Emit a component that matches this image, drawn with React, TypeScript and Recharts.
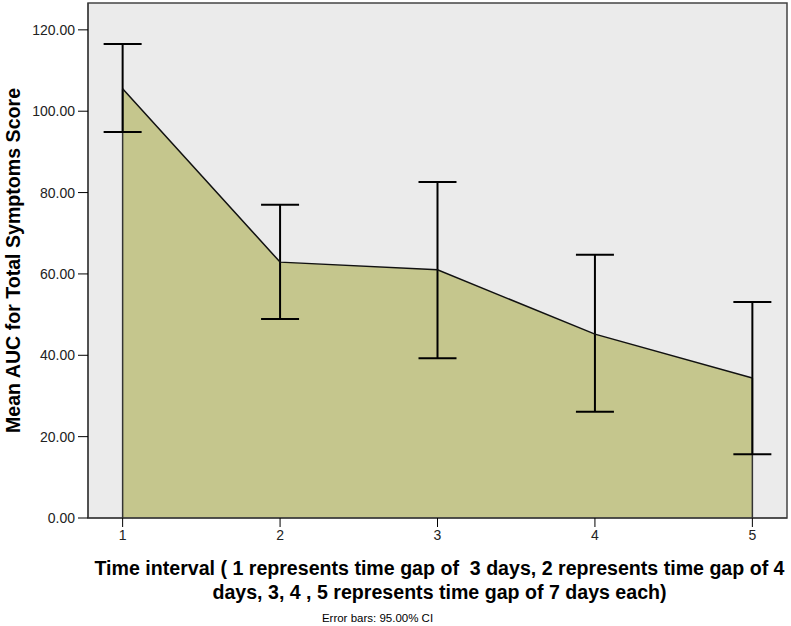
import React from "react";
import {
  ComposedChart,
  Area,
  Line,
  XAxis,
  YAxis,
  ErrorBar,
  ReferenceLine,
  ReferenceArea,
  Label,
} from "recharts";

const categories = [1, 2, 3, 4, 5];
const means = [105.5, 62.9, 61.0, 45.2, 34.4];
const lowerCI = [94.9, 48.9, 39.3, 26.1, 15.7];
const upperCI = [116.5, 77.0, 82.6, 64.7, 53.1];
const yTicks = [0, 20, 40, 60, 80, 100, 120];
const xTicks = [1, 2, 3, 4, 5];

const xLabelLines = [
  "Time interval ( 1 represents time gap of  3 days, 2 represents time gap of 4",
  "days, 3, 4 , 5 represents time gap of 7 days each)",
];
const yLabelText = "Mean AUC for Total Symptoms Score";
const noteText = "Error bars: 95.00% CI";

const data = categories.map((c, i) => ({
  x: c,
  mean: means[i],
  err: [means[i] - lowerCI[i], upperCI[i] - means[i]],
}));

const FONT = "'Liberation Sans', Arial, sans-serif";

const XLabel = (props: any) => {
  const vb = props.viewBox || {};
  const cx = vb.x + vb.width / 2 + 2;
  const top = vb.y;
  return (
    <g>
      {xLabelLines.map((t, i) => (
        <text
          key={i}
          x={cx}
          y={top + 57 + i * 24}
          textAnchor="middle"
          fontFamily={FONT}
          fontWeight="bold"
          fontSize={19.6}
          fill="#000"
          style={{ whiteSpace: "pre" }}
        >
          {t}
        </text>
      ))}
      <text
        x={cx - 62}
        y={top + 104}
        textAnchor="middle"
        fontFamily={FONT}
        fontSize={11.5}
        fill="#000"
      >
        {noteText}
      </text>
    </g>
  );
};

const YLabel = (props: any) => {
  const vb = props.viewBox || {};
  const cy = vb.y + vb.height / 2;
  return (
    <text
      x={20}
      y={cy}
      transform={`rotate(-90, 20, ${cy})`}
      textAnchor="middle"
      fontFamily={FONT}
      fontWeight="bold"
      fontSize={19.6}
      fill="#000"
    >
      {yLabelText}
    </text>
  );
};

export default function App() {
  return (
    <div style={{ position: "absolute", left: 0, top: 0 }}>
      <ComposedChart
        width={791}
        height={626}
        data={data}
        margin={{ top: 3, right: 4, left: 0, bottom: 0 }}
      >
        <ReferenceArea
          x1={0.78}
          x2={5.22}
          y1={0}
          y2={126.6}
          fill="#ebebeb"
          fillOpacity={1}
          stroke="none"
          ifOverflow="extendDomain"
        />
        <XAxis
          dataKey="x"
          type="number"
          domain={[0.78, 5.22]}
          ticks={xTicks}
          allowDataOverflow
          height={108}
          tickSize={9}
          tickLine={{ stroke: "#000" }}
          axisLine={{ stroke: "#333" }}
          tick={{ fontFamily: FONT, fontSize: 14, fill: "#222" }}
          tickMargin={3}
          interval={0}
        >
          <Label content={<XLabel />} />
        </XAxis>
        <YAxis
          type="number"
          domain={[0, 126.6]}
          ticks={yTicks}
          allowDataOverflow
          width={88}
          tickSize={10}
          tickLine={{ stroke: "#000" }}
          axisLine={{ stroke: "#333" }}
          tick={{ fontFamily: FONT, fontSize: 14, fill: "#222" }}
          tickFormatter={(v: number) => v.toFixed(2)}
          tickMargin={3}
          interval={0}
        >
          <Label content={<YLabel />} />
        </YAxis>
        <Area
          dataKey="mean"
          type="linear"
          fill="#c5c68d"
          fillOpacity={1}
          stroke="none"
          isAnimationActive={false}
          dot={false}
          activeDot={false}
        />
        <ReferenceLine
          segment={[
            { x: categories[0], y: 0 },
            { x: categories[0], y: means[0] },
          ]}
          stroke="#333"
          strokeWidth={1.5}
        />
        <ReferenceLine
          segment={[
            { x: categories[categories.length - 1], y: 0 },
            { x: categories[categories.length - 1], y: means[means.length - 1] },
          ]}
          stroke="#333"
          strokeWidth={1.5}
        />
        <Line
          dataKey="mean"
          type="linear"
          stroke="#111"
          strokeWidth={1.5}
          dot={false}
          activeDot={false}
          isAnimationActive={false}
        >
          <ErrorBar
            dataKey="err"
            direction="y"
            width={19}
            stroke="#000"
            strokeWidth={2}
          />
        </Line>
        <ReferenceArea
          x1={0.78}
          x2={5.22}
          y1={0}
          y2={126.6}
          fill="none"
          stroke="#444"
          strokeWidth={1.5}
          ifOverflow="extendDomain"
        />
      </ComposedChart>
    </div>
  );
}
